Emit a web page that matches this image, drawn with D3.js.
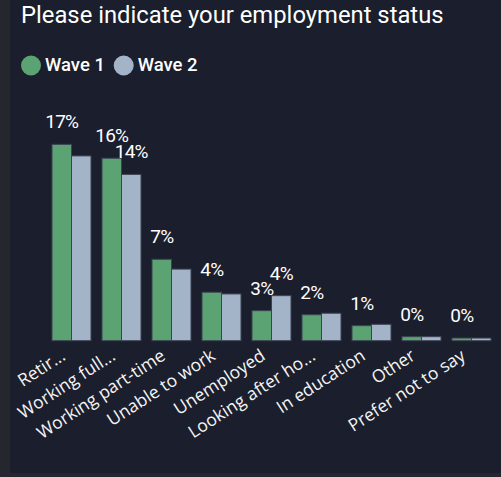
<!DOCTYPE html>
<html>
<head>
<meta charset="utf-8">
<script src="https://cdn.jsdelivr.net/npm/d3@7"></script>
<style>
  html, body { margin: 0; padding: 0; background: #1a1e2d; }
  svg { display: block; }
</style>
</head>
<body>
<svg id="chart" width="501" height="477"></svg>
<script>
// ---- data ----
const title = "Please indicate your employment status";
const categories = ["Retir...", "Working full...", "Working part-time", "Unable to work", "Unemployed", "Looking after ho...", "In education", "Other", "Prefer not to say"];
const seriesNames = ["Wave 1", "Wave 2"];
const wave1 = [17.0, 15.8, 7.05, 4.2, 2.6, 2.25, 1.3, 0.35, 0.23];
const wave2 = [16.0, 14.4, 6.2, 4.05, 3.9, 2.38, 1.42, 0.35, 0.23];
const seriesColors = ["#5ba373", "#a3b3c8"];

// ---- layout ----
const svg = d3.select("#chart");
const W = 501, H = 477;

svg.append("rect").attr("x", 0).attr("y", 0).attr("width", W).attr("height", H).attr("fill", "#25272f");
svg.append("rect").attr("x", 10).attr("y", 0).attr("width", W - 10).attr("height", 473).attr("fill", "#1a1e2d");

svg.append("text")
  .attr("x", 21).attr("y", 23)
  .attr("fill", "#ffffff")
  .attr("font-family", "Roboto, 'Noto Sans', sans-serif")
  .attr("font-size", 23.8)
  .text(title);

// legend
const legend = svg.append("g");
const legendX = [31, 123.7];
seriesNames.forEach((name, i) => {
  legend.append("circle").attr("cx", legendX[i]).attr("cy", 65.5).attr("r", 10).attr("fill", seriesColors[i]);
  legend.append("text")
    .attr("x", legendX[i] + 14).attr("y", 71)
    .attr("fill", "#ffffff")
    .attr("font-family", "Roboto, 'Noto Sans', sans-serif")
    .attr("font-weight", 500)
    .attr("font-size", 18.5)
    .text(name);
});

const baseY = 340.7;
const x0 = d3.scaleBand().domain(categories).range([46.5, 496.5]).paddingInner(0.22).paddingOuter(0.11);
const x1 = d3.scaleBand().domain(seriesNames).range([0, x0.bandwidth()]);
const y = d3.scaleLinear().domain([0, 20]).range([baseY, baseY - 231]);

const rows = categories.map((c, i) => ({ cat: c, vals: [wave1[i], wave2[i]] }));

const groups = svg.append("g").selectAll("g").data(rows).join("g")
  .attr("transform", d => `translate(${x0(d.cat)},0)`);

groups.selectAll("rect").data(d => d.vals.map((v, j) => ({ v, s: seriesNames[j], j })))
  .join("rect")
  .attr("x", d => x1(d.s))
  .attr("y", d => y(d.v))
  .attr("width", x1.bandwidth())
  .attr("height", d => baseY - y(d.v))
  .attr("fill", d => seriesColors[d.j])
  .attr("stroke", "#3b4252")
  .attr("stroke-width", 1);

// data labels with collision hiding
const labelG = svg.append("g");
const placed = [];
rows.forEach(r => {
  r.vals.forEach((v, j) => {
    const cx = x0(r.cat) + x1(seriesNames[j]) + x1.bandwidth() / 2;
    const t = labelG.append("text")
      .attr("x", cx).attr("y", y(v) - 16)
      .attr("text-anchor", "middle")
      .attr("fill", "#ffffff")
      .attr("font-family", "Roboto, 'Noto Sans', sans-serif")
      .attr("font-size", 19)
      .attr("letter-spacing", -0.8)
      .text(Math.round(v) + "%");
    const b = t.node().getBBox();
    const box = { x0: b.x, x1: b.x + b.width, y0: y(v) - 16 - 14, y1: y(v) - 16 };
    const hit = placed.some(p => !(box.x1 <= p.x0 || box.x0 >= p.x1 || box.y1 <= p.y0 || box.y0 >= p.y1));
    if (hit) t.remove(); else placed.push(box);
  });
});

// x axis labels (rotated)
const axis = d3.axisBottom(x0).tickSize(0).tickPadding(0);
const ax = svg.append("g").attr("transform", `translate(0,${baseY})`).call(axis);
ax.select(".domain").remove();
ax.selectAll(".tick text")
  .attr("fill", "#f4f4f4")
  .attr("font-family", "'Open Sans', 'Noto Sans', sans-serif")
  .attr("font-size", 17.5)
  .attr("font-weight", 500)
  .attr("text-anchor", "end")
  .attr("y", 0).attr("dy", 0)
  .attr("transform", "translate(-5,18) rotate(-33)");
</script>
</body>
</html>
